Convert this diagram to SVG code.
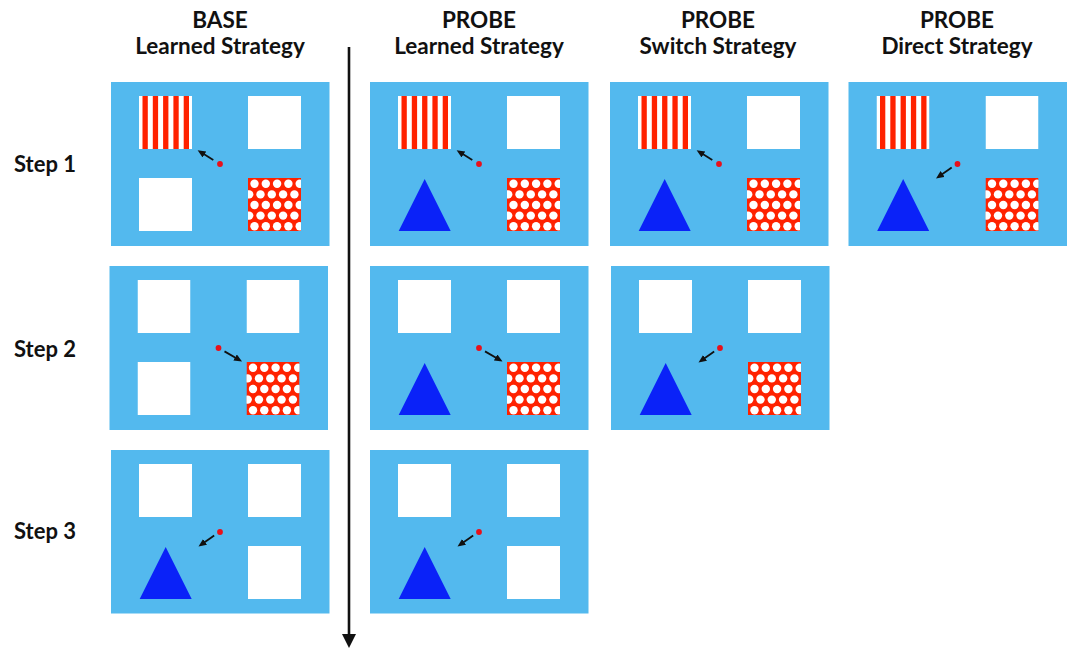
<svg xmlns="http://www.w3.org/2000/svg" xmlns:xlink="http://www.w3.org/1999/xlink" width="1071" height="648" viewBox="0 0 1071 648">
<style>
.hdr{font-family:Lato,"Open Sans","DejaVu Sans",sans-serif;font-weight:700;font-size:22.5px;fill:#111;text-anchor:middle}
.step{font-family:Lato,"Open Sans","DejaVu Sans",sans-serif;font-weight:700;font-size:22px;fill:#111}
.panel{fill:#53B9EE}
.dot{fill:#E8101A}
.mv{stroke:#111;stroke-width:1.8;fill:none;marker-end:url(#ah)}
</style>
<defs>
<marker id="ah" markerUnits="userSpaceOnUse" markerWidth="9" markerHeight="8" refX="4.5" refY="3.5" orient="auto">
<path d="M0,0 L8,3.5 L0,7 Z" fill="#111"/>
</marker>
<symbol id="white" viewBox="0 0 53 53" width="53" height="53">
<rect width="53" height="53" fill="#fff"/>
</symbol>
<symbol id="stripes" viewBox="0 0 53 53" width="53" height="53">
<rect width="53" height="53" fill="#fff"/>
<g fill="#FF2200">
<rect x="3.5" y="0" width="5.3" height="53"/>
<rect x="13.8" y="0" width="5.3" height="53"/>
<rect x="24.1" y="0" width="5.3" height="53"/>
<rect x="34.4" y="0" width="5.3" height="53"/>
<rect x="44.7" y="0" width="5.3" height="53"/>
</g>
</symbol>
<symbol id="dots" viewBox="0 0 53 53" width="53" height="53">
<rect width="53" height="53" fill="#FF2200"/>
<g id="rowA" fill="#fff">
<circle cx="6.5" cy="5.8" r="4.2"/><circle cx="17.8" cy="5.8" r="4.2"/><circle cx="29.1" cy="5.8" r="4.2"/><circle cx="40.4" cy="5.8" r="4.2"/><circle cx="51.7" cy="5.8" r="4.2"/>
</g>
<g id="rowB" fill="#fff">
<circle cx="1.2" cy="16.4" r="4.2"/><circle cx="12.5" cy="16.4" r="4.2"/><circle cx="23.8" cy="16.4" r="4.2"/><circle cx="35.1" cy="16.4" r="4.2"/><circle cx="46.4" cy="16.4" r="4.2"/>
</g>
<use xlink:href="#rowA" href="#rowA" y="21.2"/>
<use xlink:href="#rowB" href="#rowB" y="21.2"/>
<use xlink:href="#rowA" href="#rowA" y="42.4"/>
</symbol>
<symbol id="tri" viewBox="0 0 53 53" width="53" height="53">
<polygon points="0.7,53 26.7,1 52.7,53" fill="#0A22F8"/>
</symbol>
</defs>

<g id="headers">
<text class="hdr" x="220" y="28">BASE</text>
<text class="hdr" x="220" y="54">Learned Strategy</text>
<text class="hdr" x="479" y="28">PROBE</text>
<text class="hdr" x="479" y="54">Learned Strategy</text>
<text class="hdr" x="718" y="28">PROBE</text>
<text class="hdr" x="718" y="54">Switch Strategy</text>
<text class="hdr" x="957" y="28">PROBE</text>
<text class="hdr" x="957" y="54">Direct Strategy</text>
</g>

<g id="step-labels">
<text class="step" x="14" y="172">Step 1</text>
<text class="step" x="14" y="357">Step 2</text>
<text class="step" x="14" y="539">Step 3</text>
</g>

<g id="base-step1" transform="translate(111,82)">
<rect class="panel" width="218.5" height="164"/>
<use href="#stripes" x="28" y="14"/><use href="#white" x="137" y="14"/>
<use href="#white" x="28" y="96"/><use href="#dots" x="137" y="96"/>
<circle class="dot" cx="109" cy="82" r="2.9"/>
<line class="mv" x1="102.3" y1="78" x2="89.6" y2="70.1"/>
</g>

<g id="probe-learned-step1" transform="translate(370,82)">
<rect class="panel" width="218.5" height="164"/>
<use href="#stripes" x="28" y="14"/><use href="#white" x="137" y="14"/>
<use href="#tri" x="28" y="96"/><use href="#dots" x="137" y="96"/>
<circle class="dot" cx="109" cy="82" r="2.9"/>
<line class="mv" x1="102.3" y1="78" x2="89.6" y2="70.1"/>
</g>

<g id="probe-switch-step1" transform="translate(610,82)">
<rect class="panel" width="218.5" height="164"/>
<use href="#stripes" x="28" y="14"/><use href="#white" x="137" y="14"/>
<use href="#tri" x="28" y="96"/><use href="#dots" x="137" y="96"/>
<circle class="dot" cx="109" cy="82" r="2.9"/>
<line class="mv" x1="102.3" y1="78" x2="89.6" y2="70.1"/>
</g>

<g id="probe-direct-step1" transform="translate(848.5,82)">
<rect class="panel" width="218.5" height="164"/>
<use href="#stripes" x="28" y="14"/><use href="#white" x="137" y="14"/>
<use href="#tri" x="28" y="96"/><use href="#dots" x="137" y="96"/>
<circle class="dot" cx="109" cy="82" r="2.9"/>
<line class="mv" x1="103.2" y1="85.6" x2="90.4" y2="94.5"/>
</g>

<g id="base-step2" transform="translate(109.5,266)">
<rect class="panel" width="218.5" height="164"/>
<use href="#white" x="28" y="14"/><use href="#white" x="137" y="14"/>
<use href="#white" x="28" y="96"/><use href="#dots" x="137" y="96"/>
<circle class="dot" cx="109" cy="82" r="2.9"/>
<line class="mv" x1="115" y1="85.4" x2="129.5" y2="93.7"/>
</g>

<g id="probe-learned-step2" transform="translate(370,266)">
<rect class="panel" width="218.5" height="164"/>
<use href="#white" x="28" y="14"/><use href="#white" x="137" y="14"/>
<use href="#tri" x="28" y="96"/><use href="#dots" x="137" y="96"/>
<circle class="dot" cx="109" cy="82" r="2.9"/>
<line class="mv" x1="115" y1="85.4" x2="129.5" y2="93.7"/>
</g>

<g id="probe-switch-step2" transform="translate(611,266)">
<rect class="panel" width="218.5" height="164"/>
<use href="#white" x="28" y="14"/><use href="#white" x="137" y="14"/>
<use href="#tri" x="28" y="96"/><use href="#dots" x="137" y="96"/>
<circle class="dot" cx="109" cy="82" r="2.9"/>
<line class="mv" x1="103.2" y1="85.6" x2="90.4" y2="94.5"/>
</g>

<g id="base-step3" transform="translate(111,450)">
<rect class="panel" width="218.5" height="163.5"/>
<use href="#white" x="28" y="14"/><use href="#white" x="137" y="14"/>
<use href="#tri" x="28" y="96"/><use href="#white" x="137" y="96"/>
<circle class="dot" cx="109" cy="82" r="2.9"/>
<line class="mv" x1="103.2" y1="85.6" x2="90.4" y2="94.5"/>
</g>

<g id="probe-learned-step3" transform="translate(370,450)">
<rect class="panel" width="218.5" height="163.5"/>
<use href="#white" x="28" y="14"/><use href="#white" x="137" y="14"/>
<use href="#tri" x="28" y="96"/><use href="#white" x="137" y="96"/>
<circle class="dot" cx="109" cy="82" r="2.9"/>
<line class="mv" x1="103.2" y1="85.6" x2="90.4" y2="94.5"/>
</g>

<g id="connectors">
<line x1="349" y1="47" x2="349" y2="635" stroke="#111" stroke-width="2.6"/>
<polygon points="342,634 356,634 349,648" fill="#111"/>
</g>
</svg>
